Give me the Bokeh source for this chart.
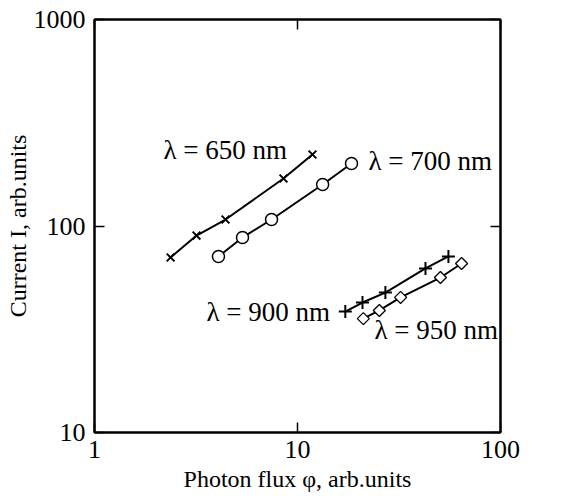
import math
from bokeh.plotting import figure
from bokeh.models import LogAxis, FixedTicker, BasicTickFormatter, Label
from bokeh.embed import file_html
from bokeh.resources import INLINE

# ---- data ----
x650 = [2.37, 3.18, 4.42, 8.53, 11.85]
y650 = [70.4, 89.9, 107.5, 169.8, 222.0]
x700 = [4.08, 5.36, 7.45, 13.3, 18.45]
y700 = [71.2, 88.0, 107.5, 158.8, 200.7]
x900 = [17.2, 20.9, 27.1, 42.7, 55.4]
y900 = [38.5, 42.6, 47.6, 62.3, 71.2]
x950 = [21.1, 25.3, 32.2, 50.6, 64.3]
y950 = [35.6, 39.0, 45.1, 56.3, 65.8]
series_names = ["λ = 650 nm", "λ = 700 nm", "λ = 900 nm", "λ = 950 nm"]
x_ticks = [1, 10, 100]
y_ticks = [10, 100, 1000]
x_title = "Photon flux φ, arb.units"
y_title = "Current I, arb.units"

FONT = "Liberation Serif"
TICK_FS = "26px"
TITLE_FS = "24px"
ANN_FS = "27px"

p = figure(x_axis_type="log", y_axis_type="log",
           x_range=(1, 100), y_range=(10, 1000),
           width=576, height=499, output_backend="svg", toolbar_location=None,
           min_border_left=94, min_border_right=76, min_border_top=19, min_border_bottom=67)
p.xgrid.visible = False
p.ygrid.visible = False
p.outline_line_color = "black"
p.outline_line_width = 2
p.background_fill_color = "white"
p.border_fill_color = "white"

def style_axis(ax, ticks, show_labels=True):
    ax.ticker = FixedTicker(ticks=ticks, minor_ticks=[])
    ax.formatter = BasicTickFormatter()
    ax.major_tick_in = 10
    ax.major_tick_out = 0
    ax.minor_tick_in = 0
    ax.minor_tick_out = 0
    ax.major_tick_line_width = 1.5
    ax.major_tick_line_color = "black"
    ax.axis_line_width = 2
    ax.axis_line_color = "black"
    ax.major_label_text_font = FONT
    ax.major_label_text_font_size = TICK_FS
    ax.major_label_text_font_style = "normal"
    ax.major_label_text_color = "black" if show_labels else None
    ax.major_label_standoff = 10
    ax.axis_label_text_font = FONT
    ax.axis_label_text_font_size = TITLE_FS
    ax.axis_label_text_font_style = "normal"
    ax.axis_label_text_color = "black"

style_axis(p.xaxis[0], x_ticks)
style_axis(p.yaxis[0], y_ticks)
p.xaxis[0].major_label_standoff = 8
p.xaxis[0].axis_label = x_title
p.xaxis[0].axis_label_standoff = 5
p.yaxis[0].axis_label = y_title
p.yaxis[0].axis_label_standoff = 0
p.yaxis[0].major_label_standoff = 9

top = LogAxis()
style_axis(top, x_ticks, show_labels=False)
p.add_layout(top, "above")
right = LogAxis()
style_axis(right, y_ticks, show_labels=False)
p.add_layout(right, "right")

# curves
for xs, ys in [(x650, y650), (x700, y700), (x900, y900), (x950, y950)]:
    p.line(xs, ys, line_color="black", line_width=2)

p.scatter(x650, y650, marker="x", size=11, line_color="black", line_width=2)
p.scatter(x700, y700, marker="circle", size=12, line_color="black", fill_color="white", line_width=1.5)
p.scatter(x900, y900, marker="cross", size=13, line_color="black", line_width=2)
p.scatter(x950, y950, marker="square", angle=math.pi / 4, size=8.5, line_color="black",
          fill_color="white", line_width=1.3)

# pixel -> data helpers for annotation placement (frame: x 94..500, y 19..432)
def px_x(px):
    return 10 ** ((px - 94) / 203.0)

def px_y(py):
    return 10 ** (3 - (py - 19) / 206.5)

ann_pos = [(163, 149), (368, 160), (206, 311), (374, 329)]
for name, (ax_, ay_) in zip(series_names, ann_pos):
    p.add_layout(Label(x=px_x(ax_), y=px_y(ay_), text=name, text_font=FONT,
                       text_font_size=ANN_FS, text_align="left", text_baseline="middle",
                       text_color="black"))

open("out.html", "w").write(file_html(p, INLINE))
